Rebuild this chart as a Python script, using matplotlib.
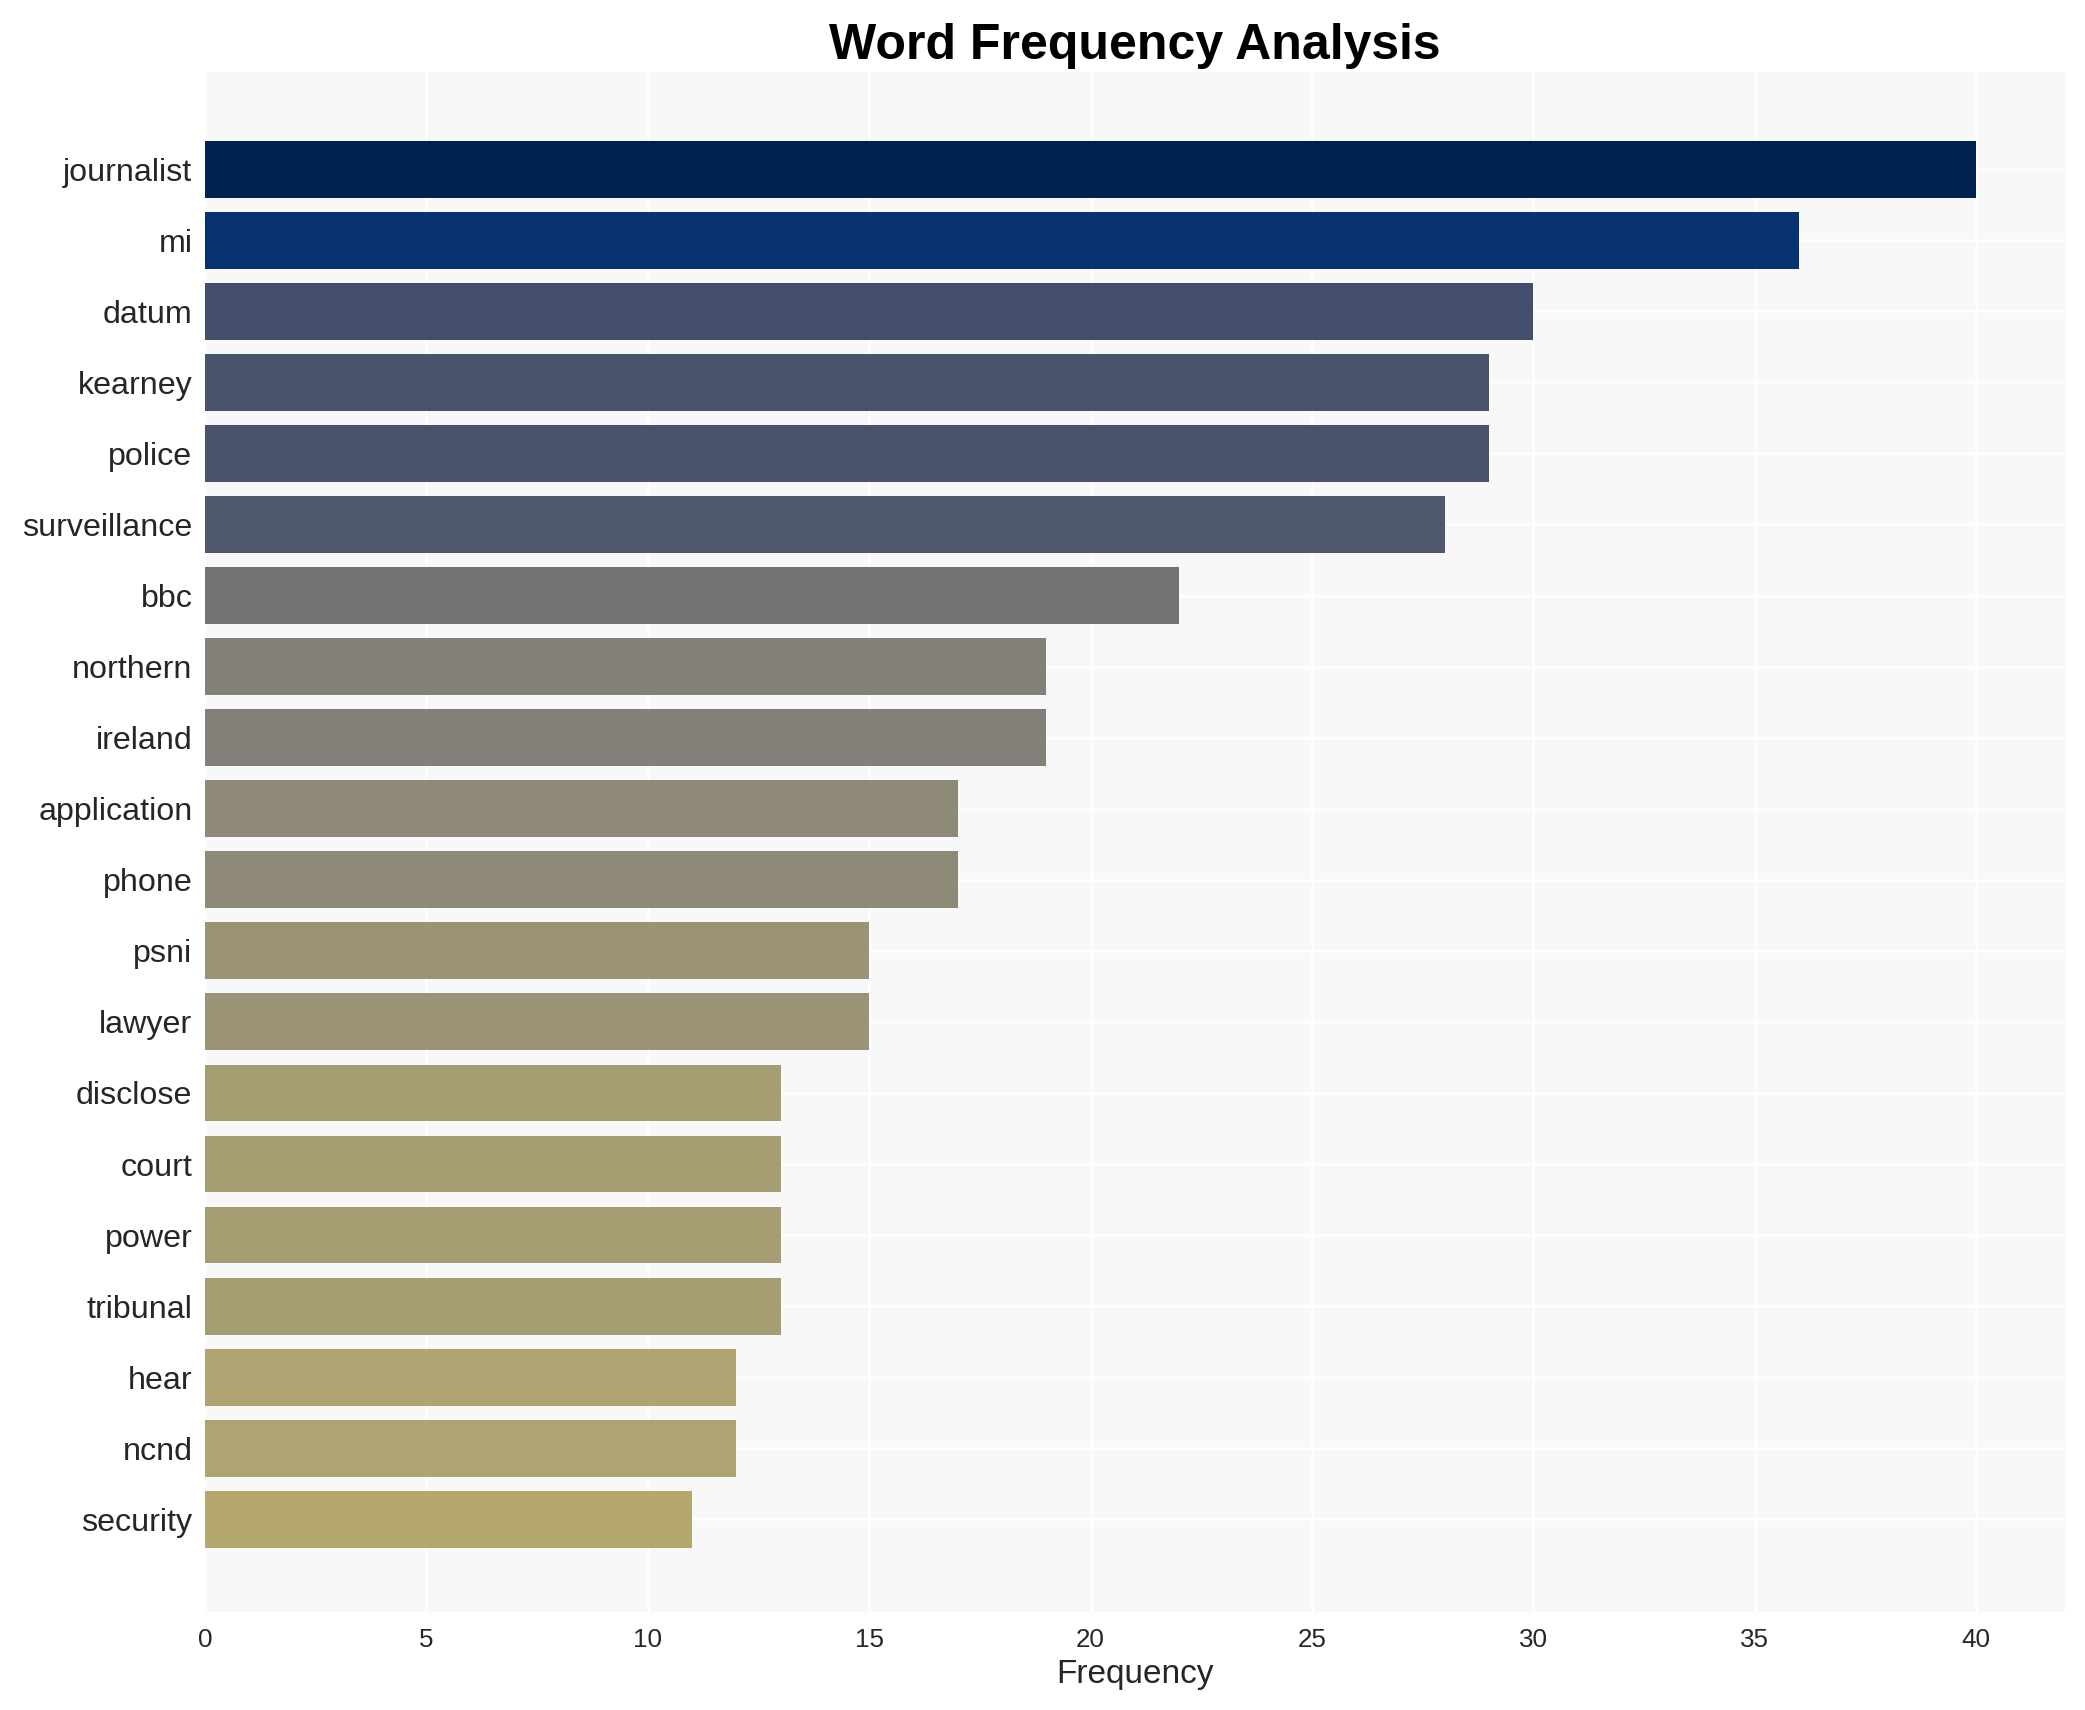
import matplotlib
matplotlib.use("Agg")
import matplotlib.pyplot as plt
import numpy as np

words = ["journalist", "mi", "datum", "kearney", "police", "surveillance",
         "bbc", "northern", "ireland", "application", "phone", "psni",
         "lawyer", "disclose", "court", "power", "tribunal", "hear",
         "ncnd", "security"]
counts = [40, 36, 30, 29, 29, 28, 22, 19, 19, 17, 17, 15, 15, 13, 13, 13,
          13, 12, 12, 11]

plt.rcParams["font.family"] = ["Liberation Sans", "DejaVu Sans"]
text_color = "#262626"

values = np.array(counts)
colors = plt.cm.cividis_r(values / values.max())

fig = plt.figure(figsize=(13.9, 11.4), dpi=150)
ax = fig.add_axes([0.0983, 0.0575, 0.892, 0.9005])
ax.set_facecolor("#f8f8f8")

y = np.arange(len(words))
ax.barh(y, values, height=0.8, color=colors, zorder=2)

ax.set_yticks(y)
ax.set_yticklabels(words, fontsize=15.5, color=text_color)
ax.set_xticks(np.arange(0, 45, 5))
ax.tick_params(axis="x", labelsize=12.5, colors=text_color, length=0, pad=8)
ax.tick_params(axis="y", length=0, pad=6)
ax.set_xlim(0, 42)
ax.set_ylim(len(words) - 1 + 1.3, -1.37)

ax.grid(True, color="white", linewidth=1.2, zorder=0)
ax.set_axisbelow(True)
for s in ax.spines.values():
    s.set_visible(False)

ax.set_xlabel("Frequency", fontsize=16, color=text_color, labelpad=3)
ax.set_title("Word Frequency Analysis", fontsize=24, fontweight="bold",
             color="black", pad=6)

fig.savefig("out.png", dpi=150)
